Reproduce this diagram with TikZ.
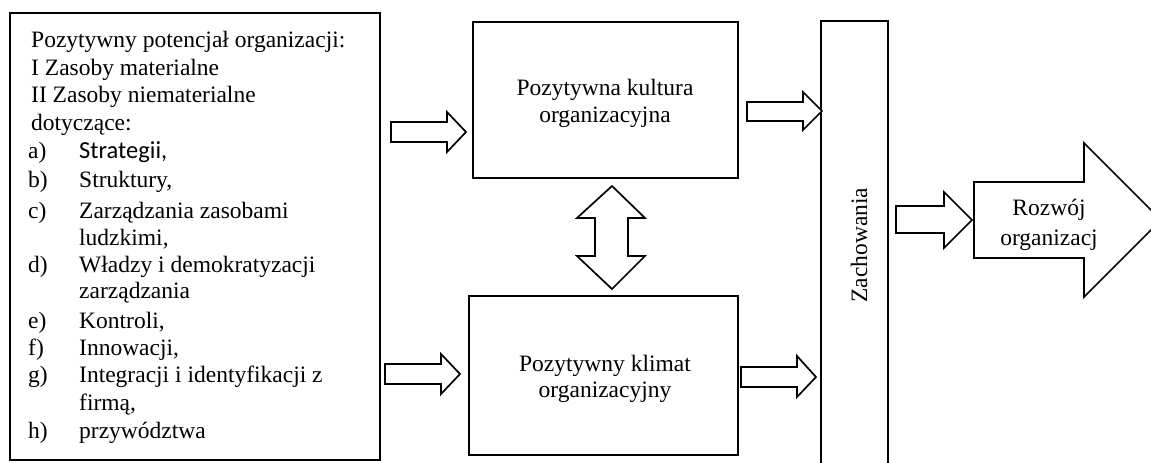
\documentclass[tikz,border=0pt]{standalone}
\usepackage{fontspec}
\setmainfont{Liberation Serif}
\newfontfamily\calibrifont{Carlito}
\begin{document}
\begin{tikzpicture}[x=1pt,y=-1pt,
  box/.style={draw=black,line width=1.7pt,fill=white},
  blockarrow/.style={draw=black,line width=1.7pt,fill=white,line join=miter},
  txt/.style={font=\fontsize{23.5}{27}\selectfont,inner sep=0pt,anchor=base west},
  ctxt/.style={font=\fontsize{23.5}{27}\selectfont,inner sep=0pt,anchor=base}]
\useasboundingbox (0,0) rectangle (1151,463);
% boxes
\draw[box] (10,13) rectangle (380,460);
\node[inner sep=0pt] (left) at (195,236.5) {};
\draw[box] (473,22) rectangle (738,178);
\node[inner sep=0pt] (kult) at (605,100) {};
\draw[box] (469,296) rectangle (738,455);
\node[inner sep=0pt] (klim) at (605,375) {};
\draw[box] (821,21) rectangle (888,475);
\node[inner sep=0pt] (zach) at (854.5,245) {};
% left box text
\node[txt] (l1) at (31,47.5) {Pozytywny potencjał organizacji:};
\node[txt] (l2) at (31,75) {I Zasoby materialne};
\node[txt] (l3) at (31,102.5) {II Zasoby niematerialne};
\node[txt] (l4) at (31,130) {dotyczące:};
\node[txt] (a1) at (28,158) {a)};
\node[txt,font=\fontsize{24.5}{27}\calibrifont] (a2) at (79,158) {Strategii,};
\node[txt] (b1) at (28,187) {b)};
\node[txt] (b2) at (79,187) {Struktury,};
\node[txt] (c1) at (28,218) {c)};
\node[txt] (c2) at (79,218) {Zarządzania zasobami};
\node[txt] (c3) at (79,245) {ludzkimi,};
\node[txt] (d1) at (28,272) {d)};
\node[txt] (d2) at (79,272) {Władzy i demokratyzacji};
\node[txt] (d3) at (79,298.5) {zarządzania};
\node[txt] (e1) at (28,328) {e)};
\node[txt] (e2) at (79,328) {Kontroli,};
\node[txt] (f1) at (28,355) {f)};
\node[txt] (f2) at (79,355) {Innowacji,};
\node[txt] (g1) at (28,382) {g)};
\node[txt] (g2) at (79,382) {Integracji i identyfikacji z};
\node[txt] (g3) at (79,410) {firmą,};
\node[txt] (h1) at (28,438) {h)};
\node[txt] (h2) at (79,438) {przywództwa};
% centre texts
\node[ctxt] (k1) at (605,95) {Pozytywna kultura};
\node[ctxt] (k2) at (605,122) {organizacyjna};
\node[ctxt] (m1) at (605,371) {Pozytywny klimat};
\node[ctxt] (m2) at (605,397.5) {organizacyjny};
\node[ctxt,rotate=90] (z1) at (867,245) {Zachowania};
% block arrows
\draw[blockarrow] (391,122) -- (447,122) -- (447,112) -- (466,132) -- (447,152) -- (447,142) -- (391,142) -- cycle;
\draw[blockarrow] (385,364) -- (441,364) -- (441,354) -- (460,374) -- (441,394) -- (441,384) -- (385,384) -- cycle;
\draw[blockarrow] (747,102) -- (803,102) -- (803,92) -- (822,111) -- (803,130) -- (803,121) -- (747,121) -- cycle;
\draw[blockarrow] (741,367) -- (797,367) -- (797,356) -- (816,377) -- (797,397) -- (797,387) -- (741,387) -- cycle;
\draw[blockarrow] (896,206) -- (944,206) -- (944,192) -- (972,220) -- (944,248) -- (944,233) -- (896,233) -- cycle;
% double arrow
\draw[blockarrow] (612,186) -- (645,218) -- (628,218) -- (628,256) -- (645,256) -- (612,289) -- (577,256) -- (595,256) -- (595,218) -- (577,218) -- cycle;
% big arrow
\draw[blockarrow] (974,182) -- (1084,182) -- (1084,143) -- (1161,220) -- (1084,297) -- (1084,258) -- (974,258) -- cycle;
\node[ctxt] (r1) at (1049,215) {Rozwój};
\node[ctxt] (r2) at (1049,245) {organizacj};
\end{tikzpicture}
\end{document}
